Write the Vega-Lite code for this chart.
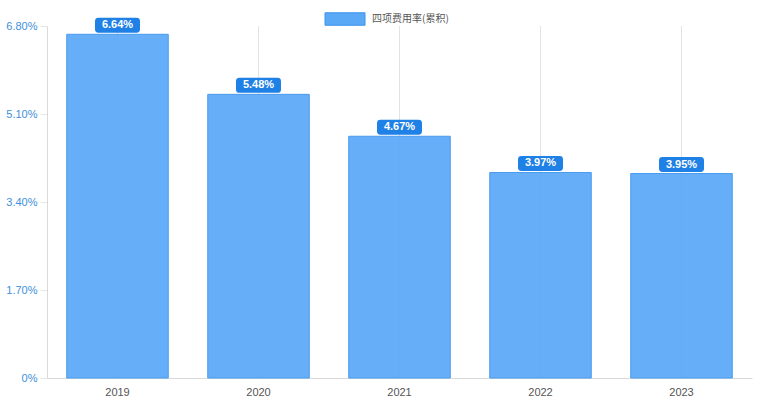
{
  "$schema": "https://vega.github.io/schema/vega-lite/v6.json",
  "width": 705,
  "height": 352,
  "autosize": {"type": "none"},
  "padding": {"left": 47, "top": 26, "right": 6, "bottom": 24},
  "background": "white",
  "config": {"view": {"stroke": null}, "font": "Liberation Sans"},
  "data": {"values": [
    {"year": "2019", "rate": 6.64, "label": "6.64%", "series": "四项费用率(累积)"},
    {"year": "2020", "rate": 5.48, "label": "5.48%", "series": "四项费用率(累积)"},
    {"year": "2021", "rate": 4.67, "label": "4.67%", "series": "四项费用率(累积)"},
    {"year": "2022", "rate": 3.97, "label": "3.97%", "series": "四项费用率(累积)"},
    {"year": "2023", "rate": 3.95, "label": "3.95%", "series": "四项费用率(累积)"}
  ]},
  "encoding": {
    "x": {"field": "year", "type": "nominal", "sort": null,
      "scale": {"paddingInner": 0.28, "paddingOuter": 0.14},
      "axis": {"title": null, "labelAngle": 0, "labelColor": "#555555", "labelFontSize": 11, "labelPadding": 8,
        "domainColor": "#d9d9d9", "tickSize": 0, "grid": false}}
  },
  "layer": [
    {
      "mark": {"type": "rule", "color": "#e3e3e3", "strokeWidth": 1},
      "encoding": {"y": {"datum": 0, "type": "quantitative"}, "y2": {"datum": 6.8}}
    },
    {
      "mark": {"type": "bar", "fill": "#5aa9f7", "fillOpacity": 0.93, "stroke": "#4a9bee", "strokeWidth": 1},
      "encoding": {
        "y": {"field": "rate", "type": "quantitative",
          "scale": {"domain": [0, 6.8], "nice": false},
          "axis": {"title": null, "values": [0, 1.7, 3.4, 5.1, 6.8],
            "labelExpr": "datum.value == 0 ? '0%' : format(datum.value, '.2f') + '%'",
            "labelColor": "#3d8fdc", "labelFontSize": 11, "labelPadding": 3, "tickSize": 7, "tickColor": "#e6e6e6",
            "gridColor": "#e6e6e6", "domainColor": "#d9d9d9"}},
        "color": {"field": "series", "type": "nominal",
          "scale": {"range": ["#5aa9f7"]},
          "legend": {"title": null, "orient": "none", "legendX": 285, "legendY": -20,
            "symbolType": "M-1.6,-0.5 L1.6,-0.5 L1.6,0.5 L-1.6,0.5 Z", "symbolSize": 625,
            "symbolStrokeColor": "#3f93e8", "symbolStrokeWidth": 1,
            "labelFont": "Noto Sans CJK SC", "labelFontSize": 10, "labelColor": "#555555", "labelOffset": 14}}
      }
    },
    {
      "mark": {"type": "point", "shape": "M-1.27,-0.5 L1.27,-0.5 Q1.5,-0.5 1.5,-0.27 L1.5,0.27 Q1.5,0.5 1.27,0.5 L-1.27,0.5 Q-1.5,0.5 -1.5,0.27 L-1.5,-0.27 Q-1.5,-0.5 -1.27,-0.5 Z",
        "size": 900, "filled": true, "fill": "#1f80e6", "opacity": 1, "strokeWidth": 0, "yOffset": -9},
      "encoding": {"y": {"field": "rate", "type": "quantitative"}}
    },
    {
      "mark": {"type": "text", "color": "white", "fontWeight": "bold", "fontSize": 11, "yOffset": -9, "baseline": "middle"},
      "encoding": {"y": {"field": "rate", "type": "quantitative"}, "text": {"field": "label"}}
    }
  ]
}
